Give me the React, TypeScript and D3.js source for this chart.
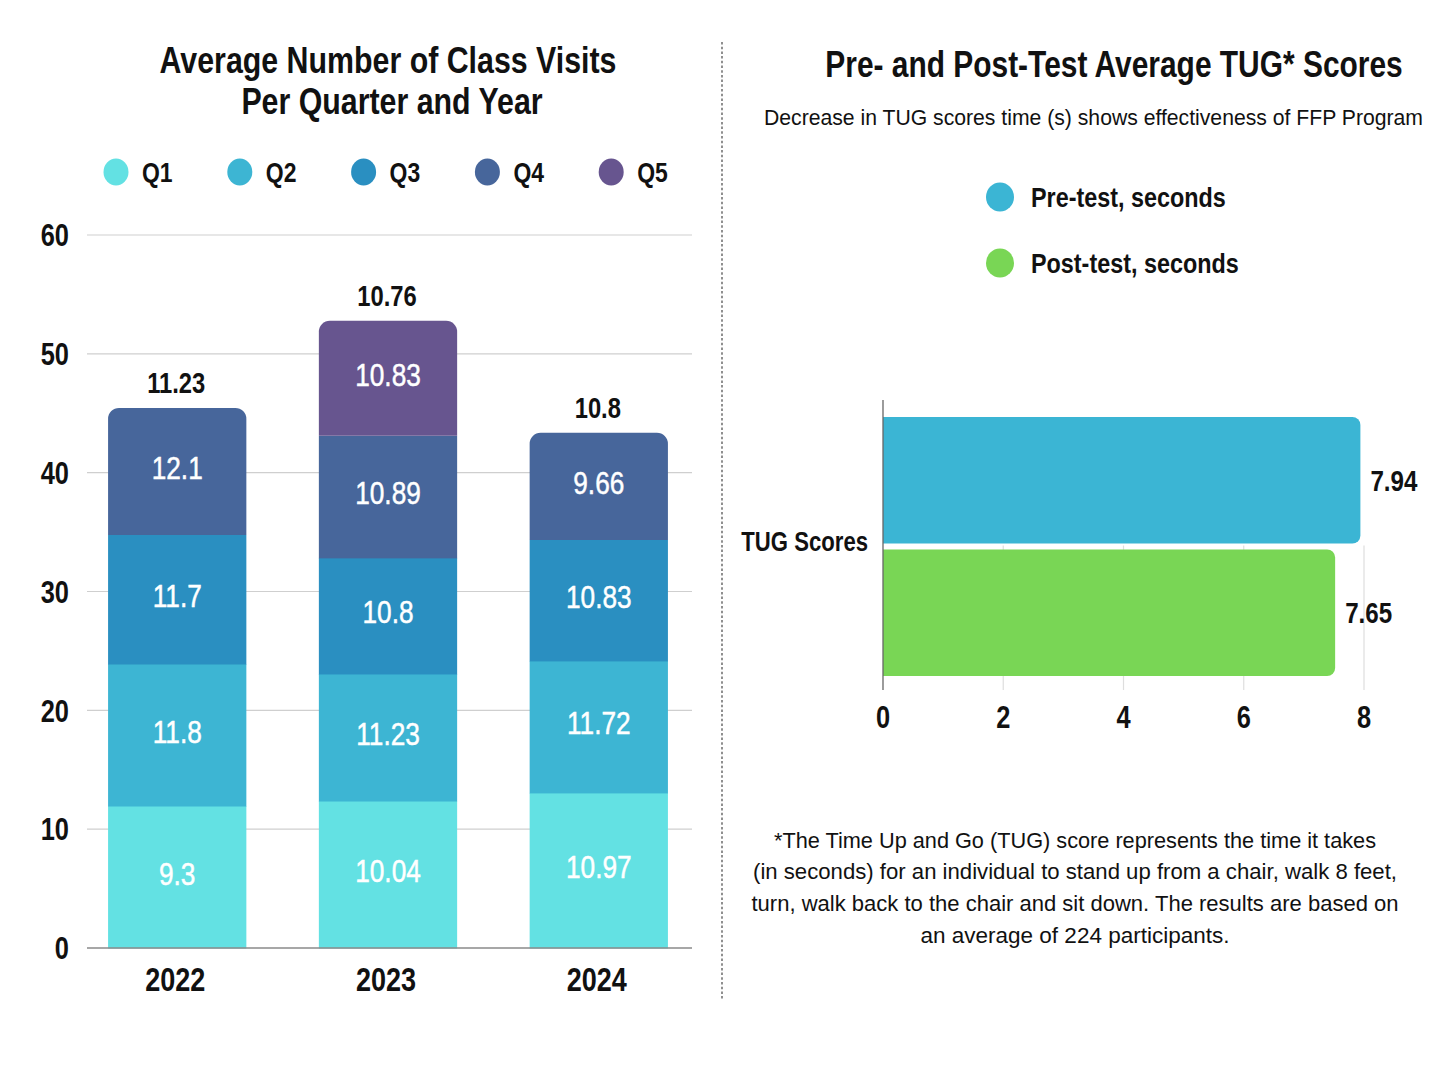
import * as d3 from 'd3';

// left chart: stacked class visits
const years = ['2022', '2023', '2024'];
const quarters = ['Q1', 'Q2', 'Q3', 'Q4', 'Q5'];
// segment sizes as drawn in the picture
const q1Values = [11.95, 12.37, 13.05];
const q2Values = [11.95, 10.69, 11.11];
const q3Values = [10.86, 9.77, 10.18];
const q4Values = [10.69, 10.27, 9.01];
const q5Values = [0, 9.68, 0];
// labels printed on the segments
const q1Labels = ['9.3', '10.04', '10.97'];
const q2Labels = ['11.8', '11.23', '11.72'];
const q3Labels = ['11.7', '10.8', '10.83'];
const q4Labels = ['12.1', '10.89', '9.66'];
const q5Labels = ['', '10.83', ''];
const topLabels = ['11.23', '10.76', '10.8'];
const yTicks = [0, 10, 20, 30, 40, 50, 60];

// right chart: TUG scores
const tugSeries = ['Pre-test, seconds', 'Post-test, seconds'];
const tugValues = [7.94, 7.52];
const tugLabels = ['7.94', '7.65'];
const xTicks = [0, 2, 4, 6, 8];
const footnote = [
  '*The Time Up and Go (TUG) score represents the time it takes',
  '(in seconds) for an individual to stand up from a chair, walk 8 feet,',
  'turn, walk back to the chair and sit down. The results are based on',
  'an average of 224 participants.',
];
const footnoteWidths = [602, 644, 647, 309];

const quarterColors = ['#63e1e3', '#3db5d3', '#2a8fc1', '#47669b', '#67558f'];
const tugColors = ['#3bb5d4', '#79d655'];

const FONT = "'Liberation Sans', Arial, sans-serif";
const NARROW = 0.82;

function topRounded(x: number, y: number, w: number, h: number, r: number) {
  const p = d3.path();
  p.moveTo(x, y + h);
  p.lineTo(x, y + r);
  p.arcTo(x, y, x + r, y, r);
  p.lineTo(x + w - r, y);
  p.arcTo(x + w, y, x + w, y + r, r);
  p.lineTo(x + w, y + h);
  p.closePath();
  return p.toString();
}

function rightRounded(x: number, y: number, w: number, h: number, r: number) {
  const p = d3.path();
  p.moveTo(x, y);
  p.lineTo(x + w - r, y);
  p.arcTo(x + w, y, x + w, y + r, r);
  p.lineTo(x + w, y + h - r);
  p.arcTo(x + w, y + h, x + w - r, y + h, r);
  p.lineTo(x, y + h);
  p.closePath();
  return p.toString();
}

// condensed text: Liberation Sans squeezed horizontally (like Arial Narrow)
function NT(props: {
  x: number;
  y: number;
  size: number;
  anchor?: string;
  bold?: boolean;
  fill?: string;
  stroke?: string;
  children: any;
}) {
  const { x, y, size, anchor = 'start', bold = true, fill = '#111', stroke, children } = props;
  return (
    <text
      transform={`translate(${x},${y}) scale(${NARROW},1)`}
      dy="0.36em"
      textAnchor={anchor}
      fontSize={size}
      fontWeight={bold ? 'bold' : 'normal'}
      fill={fill}
      stroke={stroke}
      strokeWidth={stroke ? 0.5 : undefined}
    >
      {children}
    </text>
  );
}

export default function App() {
  const valueArrays = [q1Values, q2Values, q3Values, q4Values, q5Values];
  const labelArrays = [q1Labels, q2Labels, q3Labels, q4Labels, q5Labels];
  const table = years.map((yr, i) => {
    const row: any = { year: yr };
    quarters.forEach((q, k) => (row[q] = valueArrays[k][i]));
    return row;
  });
  const stacked = d3.stack().keys(quarters)(table);

  const y = d3.scaleLinear().domain([0, 60]).range([948, 235]);
  const x = d3.scaleBand().domain(years).range([87, 689]).paddingInner(0.344).paddingOuter(0.1);
  const gridLeft = 87;
  const gridRight = 692;

  // top-most segment per year
  const topIndex = years.map((_, i) => {
    let t = 0;
    valueArrays.forEach((arr, k) => {
      if (arr[i] > 0) t = k;
    });
    return t;
  });

  const tx = d3.scaleLinear().domain([0, 8]).range([883, 1364]);
  const ty = d3.scaleBand().domain(tugSeries).range([417, 676]).paddingInner(0.045);
  const axisTop = 400;
  const axisBottom = 690;

  return (
    <svg width={1448} height={1086} style={{ position: 'absolute', left: 0, top: 0, background: '#fff' }} fontFamily={FONT}>
      {/* left title */}
      <NT x={388} y={60} size={37} anchor="middle">Average Number of Class Visits</NT>
      <NT x={392} y={101} size={37} anchor="middle">Per Quarter and Year</NT>

      {/* legend */}
      {quarters.map((q, k) => (
        <g key={q}>
          <ellipse cx={116 + k * 123.8} cy={172} rx={12.5} ry={13.5} fill={quarterColors[k]} />
          <NT x={142 + k * 123.8} y={172} size={28}>{q}</NT>
        </g>
      ))}

      {/* grid + y ticks */}
      {yTicks.map((t) => (
        <g key={t}>
          {t > 0 && <line x1={gridLeft} x2={gridRight} y1={y(t)} y2={y(t)} stroke="#cfcfcf" strokeWidth={1.2} />}
          <NT x={69} y={y(t)} size={31} anchor="end">{t}</NT>
        </g>
      ))}

      {/* stacked bars */}
      {stacked.map((series, k) =>
        series.map((d, i) => {
          const h = y(d[0]) - y(d[1]);
          if (h <= 0) return null;
          const bx = x(years[i])!;
          const bw = x.bandwidth();
          const top = y(d[1]);
          return k === topIndex[i] ? (
            <path key={`${k}-${i}`} d={topRounded(bx, top, bw, h, 11)} fill={quarterColors[k]} />
          ) : (
            <rect key={`${k}-${i}`} x={bx} y={top} width={bw} height={h + 0.5} fill={quarterColors[k]} />
          );
        })
      )}
      {stacked.map((series, k) =>
        series.map((d, i) =>
          labelArrays[k][i] ? (
            <NT
              key={`l${k}-${i}`}
              x={x(years[i])! + x.bandwidth() / 2}
              y={(y(d[0]) + y(d[1])) / 2 - 4}
              size={32}
              anchor="middle"
              bold={false}
              fill="#fff"
              stroke="#fff"
            >
              {labelArrays[k][i]}
            </NT>
          ) : null
        )
      )}
      {years.map((yr, i) => {
        const total = stacked[stacked.length - 1][i][1];
        return (
          <NT key={`t${yr}`} x={x(yr)! + x.bandwidth() / 2 - 1} y={y(total) - 25} size={29} anchor="middle">
            {topLabels[i]}
          </NT>
        );
      })}

      {/* baseline + year labels */}
      <line x1={gridLeft} x2={gridRight} y1={y(0)} y2={y(0)} stroke="#8a8a8a" strokeWidth={1.5} />
      {years.map((yr) => (
        <NT key={yr} x={x(yr)! + x.bandwidth() / 2 - 2} y={979} size={33} anchor="middle">
          {yr}
        </NT>
      ))}

      {/* divider */}
      <line x1={722} x2={722} y1={42} y2={1000} stroke="#555" strokeWidth={1.3} strokeDasharray="2.5 2.2" />

      {/* right title */}
      <NT x={1114} y={64} size={36.5} anchor="middle">Pre- and Post-Test Average TUG* Scores</NT>
      <text x={1093.5} y={117} dy="0.36em" textAnchor="middle" fontSize={21.5} fill="#111" textLength={659} lengthAdjust="spacingAndGlyphs">
        Decrease in TUG scores time (s) shows effectiveness of FFP Program
      </text>

      {/* right legend */}
      {tugSeries.map((s, k) => (
        <g key={s}>
          <ellipse cx={1000} cy={197 + k * 66} rx={14} ry={14.5} fill={tugColors[k]} />
          <NT x={1031} y={197 + k * 66} size={28.5}>{s}</NT>
        </g>
      ))}

      {/* right grid */}
      {xTicks.map((t) => (
        <g key={t}>
          {t > 0 && (
            <line x1={tx(t)} x2={tx(t)} y1={ty(tugSeries[1])! - 4} y2={axisBottom} stroke="#dedede" strokeWidth={1.2} />
          )}
          <NT x={tx(t)} y={717} size={31} anchor="middle">{t}</NT>
        </g>
      ))}

      {/* horizontal bars */}
      {tugSeries.map((s, k) => (
        <g key={s}>
          <path d={rightRounded(tx(0), ty(s)!, tx(tugValues[k]) - tx(0), ty.bandwidth(), 8)} fill={tugColors[k]} />
          <NT x={tx(tugValues[k]) + 10} y={ty(s)! + ty.bandwidth() / 2} size={29.5}>
            {tugLabels[k]}
          </NT>
        </g>
      ))}
      <line x1={tx(0)} x2={tx(0)} y1={axisTop} y2={axisBottom} stroke="#666" strokeWidth={1.3} />
      <NT x={868} y={541} size={27} anchor="end">TUG Scores</NT>

      {/* footnote */}
      {footnote.map((line, i) => (
        <text
          key={i}
          x={1075}
          y={840 + i * 31.7}
          dy="0.36em"
          textAnchor="middle"
          fontSize={21.5}
          fill="#111"
          textLength={footnoteWidths[i]}
          lengthAdjust="spacingAndGlyphs"
        >
          {line}
        </text>
      ))}
    </svg>
  );
}
